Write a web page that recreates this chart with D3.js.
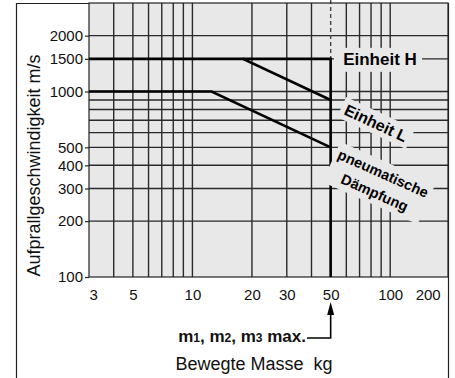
<!DOCTYPE html>
<html>
<head>
<meta charset="utf-8">
<script src="https://cdn.jsdelivr.net/npm/d3@7/dist/d3.min.js"></script>
<style>
  html, body { margin: 0; padding: 0; background: #fff; }
  svg { display: block; font-family: "Liberation Sans", Arial, Helvetica, sans-serif; }
</style>
</head>
<body>
<svg id="chart" width="455" height="378"></svg>
<script>
// Mass (kg) axis ticks and grid
const xTickValues = [3, 5, 10, 20, 30, 50, 100];
const xExtraLabel = 200;
const xGridValues = [4, 5, 6, 7, 8, 9, 10, 20, 30, 40, 50, 60, 70, 80, 90, 100];

// Impact speed (m/s) axis ticks and grid
const yTickValues = [100, 200, 300, 400, 500, 1000, 1500, 2000];
const yGridValues = [200, 300, 400, 500, 600, 700, 800, 900, 1000, 1500, 2000];

// Unit H: upper limit, falling off above ~18 kg
const unitH = [
  { m: 3, v: 1500 },
  { m: 18, v: 1500 },
  { m: 50, v: 900 }
];
// Unit L: upper limit, falling off above ~12.5 kg
const unitL = [
  { m: 3, v: 1000 },
  { m: 12.5, v: 1000 },
  { m: 50, v: 500 }
];
// Maximum permissible mass boundary
const maxMass = 50;
const limitBox = [
  { m: 18, v: 1500 },
  { m: maxMass, v: 1500 },
  { m: maxMass, v: 100 }
];

const svg = d3.select("#chart");
const plotL = 89, plotR = 448, plotT = 3, plotB = 277;

const x = d3.scaleLog().domain([3, 196]).range([plotL, plotR]);
const y = d3.scaleLog().domain([100, 3000]).range([plotB, plotT]);

const gridColor = "#2a2a2a";
const bg = "#e8e8e8";

// outer frame
svg.append("path")
  .attr("d", `M16.5,378 V${plotT + 0.5} H${plotR + 0.5} V378`)
  .attr("fill", "none").attr("stroke", "#222").attr("stroke-width", 1.2);

// plot background
svg.append("rect")
  .attr("x", plotL).attr("y", plotT)
  .attr("width", plotR - plotL).attr("height", plotB - plotT)
  .attr("fill", bg);

// grid
const grid = svg.append("g").attr("stroke", gridColor).attr("stroke-width", 1.4);
grid.selectAll("line.v").data(xGridValues).join("line")
  .attr("x1", d => x(d)).attr("x2", d => x(d))
  .attr("y1", d => d === maxMass ? y(1500) : plotT)
  .attr("y2", plotB);
grid.selectAll("line.h").data(yGridValues).join("line")
  .attr("x1", plotL).attr("x2", plotR)
  .attr("y1", d => y(d)).attr("y2", d => y(d));

// dashed continuation of the max-mass line
svg.append("line")
  .attr("x1", x(maxMass)).attr("x2", x(maxMass))
  .attr("y1", 0).attr("y2", y(1500))
  .attr("stroke", "#444").attr("stroke-width", 1.4)
  .attr("stroke-dasharray", "4,3");

// plot border
svg.append("rect")
  .attr("x", plotL).attr("y", plotT)
  .attr("width", plotR - plotL).attr("height", plotB - plotT)
  .attr("fill", "none").attr("stroke", "#222").attr("stroke-width", 1.2);

// y axis ticks and labels
const yAxis = d3.axisLeft(y).tickValues(yTickValues).tickFormat(d3.format("d"))
  .tickSize(4).tickPadding(2);
const yg = svg.append("g").attr("transform", `translate(${plotL},0)`).call(yAxis);
yg.select(".domain").remove();
yg.selectAll(".tick line").attr("stroke", "#222").attr("stroke-width", 1.2);
yg.selectAll(".tick text").attr("font-size", 15).attr("fill", "#111")
  .attr("font-family", "Liberation Sans, Arial, sans-serif");

// x axis labels
const xAxis = d3.axisBottom(x).tickValues(xTickValues).tickFormat(d3.format("d"))
  .tickSize(0).tickPadding(12);
const xg = svg.append("g").attr("transform", `translate(0,${plotB})`).call(xAxis);
xg.select(".domain").remove();
xg.selectAll(".tick text").attr("font-size", 15).attr("fill", "#111")
  .attr("font-family", "Liberation Sans, Arial, sans-serif")
  .attr("text-anchor", d => d === 3 ? "start" : "middle");
svg.append("text")
  .attr("x", x(100) + 38).attr("y", plotB + 23)
  .attr("text-anchor", "middle").attr("font-size", 15).attr("fill", "#111")
  .text(xExtraLabel);

// curves
const line = d3.line().x(d => x(d.m)).y(d => y(d.v));
const curves = svg.append("g").attr("fill", "none").attr("stroke", "#000")
  .attr("stroke-width", 2.6).attr("stroke-linejoin", "miter");
curves.append("path").attr("d", line(unitH));
curves.append("path").attr("d", line(unitL));
curves.append("path").attr("d", line(limitBox));

// curve labels with background knock-outs
const hx = 380, hy = y(1500);
svg.append("rect").attr("x", 334).attr("y", hy - 11).attr("width", 88).attr("height", 24).attr("fill", bg);
svg.append("text").attr("x", hx).attr("y", hy + 6)
  .attr("text-anchor", "middle").attr("font-size", 17).attr("font-weight", "bold")
  .text("Einheit H");

function rotatedLabel(cx, cy, angle, lines, size, lh, boxW, boxH) {
  const g = svg.append("g").attr("transform", `translate(${cx},${cy}) rotate(${angle})`);
  g.append("rect").attr("x", -boxW / 2).attr("y", -boxH / 2)
    .attr("width", boxW).attr("height", boxH).attr("fill", bg);
  const n = lines.length;
  lines.forEach((t, i) => {
    g.append("text")
      .attr("x", 0).attr("y", (i - (n - 1) / 2) * lh + size * 0.36)
      .attr("text-anchor", "middle").attr("font-size", size).attr("font-weight", "bold")
      .text(t);
  });
}
rotatedLabel(376, 123, 25, ["Einheit L"], 16, 0, 76, 22);
rotatedLabel(379, 183, 24, ["pneumatische", "Dämpfung"], 14.5, 21, 104, 44);

// axis title
svg.append("text")
  .attr("transform", `translate(40,${(52 + 279) / 2}) rotate(-90)`)
  .attr("text-anchor", "middle").attr("font-size", 18).attr("fill", "#111")
  .text("Aufprallgeschwindigkeit m/s");

svg.append("text")
  .attr("x", 254).attr("y", 370)
  .attr("text-anchor", "middle").attr("font-size", 18).attr("fill", "#111")
  .text("Bewegte Masse\u00a0 kg");

// max mass callout
const mx = x(maxMass);
const callY = 338;
const callout = svg.append("text")
  .attr("x", 306).attr("y", callY + 4)
  .attr("text-anchor", "end").attr("font-size", 17).attr("font-weight", "bold").attr("fill", "#111");
[["m", 17], ["1", 12], [", m", 17], ["2", 12], [", m", 17], ["3", 12], [" max.", 17]].forEach(([t, s]) => {
  callout.append("tspan").attr("font-size", s).text(t);
});
svg.append("path")
  .attr("d", `M307,${callY} H${mx} V313`)
  .attr("fill", "none").attr("stroke", "#000").attr("stroke-width", 1.6);
svg.append("path")
  .attr("d", `M${mx},302 L${mx - 3.5},315 L${mx + 3.5},315 Z`)
  .attr("fill", "#000");
</script>
</body>
</html>
